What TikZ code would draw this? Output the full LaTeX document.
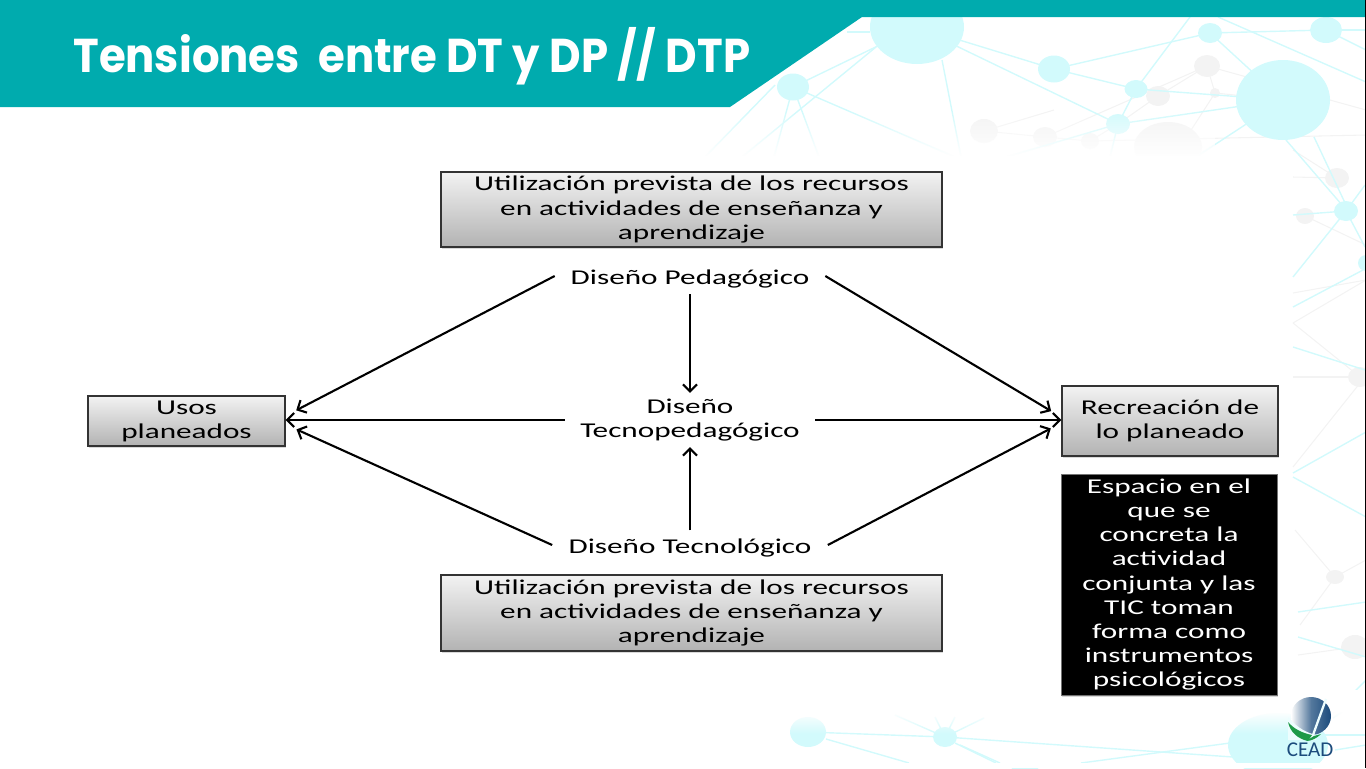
\documentclass[tikz,border=0pt]{standalone}
\usepackage{fontspec}
\usetikzlibrary{arrows.meta,shadows}
\setmainfont{Carlito}
\newfontfamily\cajafont[FakeStretch=1.48]{Carlito}
\newfontfamily\titulofont[FakeStretch=0.915]{Poppins}
\definecolor{ceadteal}{HTML}{00ABAE}
\definecolor{redcian}{HTML}{D2FAFC}
\definecolor{redgris}{HTML}{F3F3F3}
\definecolor{ceadazul}{HTML}{1B4B7C}
\definecolor{ceadverde}{HTML}{1E9A48}
\tikzset{
  textobox/.style={font=\cajafont\fontsize{12}{13.7}\selectfont,align=center,inner sep=0pt,
    execute at begin node={\rule{0pt}{11.6pt}}},
  cajagris/.style={textobox,draw=black!80,line width=0.7pt,top color=black!5,bottom color=black!30,
    drop shadow={shadow xshift=0.8pt,shadow yshift=-1.2pt,opacity=0.3}},
  cajanegra/.style={textobox,draw=black!55,line width=0.5pt,fill=black,text=white,
    drop shadow={shadow xshift=0.8pt,shadow yshift=-1.2pt,opacity=0.3}},
  flecha/.style={line width=1.2pt,black,-{Straight Barb[length=4pt,width=8pt]}},
  redlinea/.style={redcian,line width=0.8pt},
  redlineag/.style={redgris,line width=0.6pt}
}
\begin{document}
\begin{tikzpicture}[x=0.02cm,y=-0.02cm]
  \useasboundingbox (0,0) rectangle (1366,768);
  % red de fondo
  \foreach \xa/\ya/\xb/\yb in {984/131/1045/137, 1045/137/1090/141, 1090/141/1118/124, 984/131/1054/110,
    1045/137/1207/66, 1158/96/1207/66, 1158/96/1118/124, 1207/66/1215/93, 1215/93/1283/100, 1207/66/1366/110,
    1215/93/1175/155, 1090/141/1366/135, 1293/177/1337/178, 1293/150/1337/178, 1305/216/1366/245,
    1293/323/1366/280, 1293/323/1360/377, 1293/377/1360/377, 1293/467/1360/383, 1293/293/1366/280,
    1335/577/1295/530, 1335/577/1366/560, 1335/577/1300/625, 1355/647/1298/655}{
    \draw[redlineag] (\xa,\ya) -- (\xb,\yb);
  }
  \foreach \cx/\cy/\rx/\ry in {984/131/14/12, 1045/137/12/10, 1090/141/9/8, 1168/147/34/25, 1158/96/12/10,
    1207/66/13/11, 1215/93/5/5, 1337/178/12/10, 1305/216/9/8, 1360/377/12/10, 1335/577/9/7, 1355/647/14/12}{
    \fill[redgris] (\cx,\cy) ellipse ({\rx} and {\ry});
  }
  \foreach \xa/\ya/\xb/\yb in {917/27/1054/69, 1054/69/1136/89, 1054/69/1210/33, 1210/33/1326/30, 1326/30/1366/30,
    1190/17/1136/89, 1210/33/1283/100, 1218/17/1366/82, 917/27/1118/124, 942/60/961/157, 1136/89/1283/100,
    1118/124/1283/100, 793/87/917/27, 847/32/870/32, 705/157/775/85, 742/157/876/47, 793/87/774/157,
    793/87/819/157, 793/87/955/157, 1118/124/1006/157, 1118/124/1110/157, 1136/89/1118/124, 1283/100/1199/155,
    1326/30/1366/50, 1286/140/1342/205, 1314/137/1346/205, 1293/215/1346/211, 1293/277/1346/211,
    1346/211/1365/247, 1346/211/1365/185, 1293/307/1363/270, 1293/347/1365/370,
    1293/473/1366/432, 1293/477/1366/517, 1298/612/1366/602, 1298/637/1366/657, 1333/713/1366/680,
    1333/718/1366/695, 808/732/945/737, 826/739/909/763, 945/737/1233/757, 955/743/996/763, 960/745/1000/763,
    1081/763/1230/743, 895/715/945/737, 984/718/945/737, 935/717/945/737, 955/717/945/737, 1320/735/1366/735,
    1335/750/1366/745}{
    \draw[redlinea] (\xa,\ya) -- (\xb,\yb);
  }
  \foreach \cx/\cy/\rx/\ry in {917/27/47/37, 793/87/16/13.5, 1054/69/16/13.5, 1210/33/12/10, 1326/30/16/13,
    1283/100/47/40, 1136/89/11.5/9, 1118/124/12/10, 1346/211/12/10, 1366/263/8/8, 808/732/18/15, 945/737/12/10,
    1278/745/50/32, 1025/773/15/10}{
    \fill[redcian] (\cx,\cy) ellipse ({\rx} and {\ry});
  }
  % desvanecido de la red
  \foreach \i in {0,...,23}{
    \fill[white,opacity=\i/23] (690,{110+2*\i}) rectangle (1215,{112+2*\i});
    \fill[white,opacity=\i/23] (775,{735-\i}) rectangle (1366,{734-\i});
  }
  \fill[white] (690,156) rectangle (1215,175);
  \fill[white] (775,690) rectangle (1366,712);
  \fill[white] (690,763) rectangle (1366,768);
  % banda del titulo
  \fill[ceadteal] (0,0) -- (1366,0) -- (1366,17) -- (862,17) -- (730,107) -- (0,107) -- cycle;
  \fill[black] (1365,0) rectangle (1366,768);
  \node[anchor=base west,inner sep=0pt,white,font=\titulofont\bfseries\fontsize{27}{30}\selectfont] (titulo) at (73,72)
    {Tensiones\ \ entre DT y DP // DTP};
  % cajas
  \node[cajagris,minimum width=10.02cm,minimum height=1.5cm] (previstaA) at (691.5,209.5)
    {Utilización prevista de los recursos\\en actividades de enseñanza y\\aprendizaje};
  \node[cajagris,minimum width=10.02cm,minimum height=1.52cm] (previstaB) at (691.5,613)
    {Utilización prevista de los recursos\\en actividades de enseñanza y\\aprendizaje};
  \node[cajagris,minimum width=3.94cm,minimum height=1cm] (usos) at (186.5,421) {Usos\\planeados};
  \node[cajagris,minimum width=4.32cm,minimum height=1.4cm] (recreacion) at (1170,421) {Recreación de\\lo planeado};
  \node[cajanegra,minimum width=4.32cm,minimum height=4.42cm] (espacio) at (1169,584.5)
    {Espacio en el\\que se\\concreta la\\actividad\\conjunta y las\\TIC toman\\forma como\\instrumentos\\psicológicos};
  \node[textobox,minimum width=5.4cm,minimum height=0.5cm] (pedagogico) at (690,276) {Diseño Pedagógico};
  \node[textobox,minimum width=5cm,minimum height=1cm] (tecnopeda) at (690,420) {Diseño\\Tecnopedagógico};
  \node[textobox,minimum width=5.5cm,minimum height=0.5cm] (tecnologico) at (690,545) {Diseño Tecnológico};
  % flechas
  \draw[flecha,shorten >=6.8pt] (pedagogico.west) -- (usos.3);
  \draw[flecha] (tecnopeda.west) -- (tecnopeda.west -| usos.east);
  \draw[flecha,shorten >=6.8pt] (tecnologico.west) -- (usos.-2);
  \draw[flecha,shorten >=6.8pt] (pedagogico.east) -- (recreacion.178);
  \draw[flecha] (tecnopeda.east) -- (tecnopeda.east -| recreacion.west);
  \draw[flecha,shorten >=6.8pt] (tecnologico.east) -- (recreacion.181.5);
  \draw[flecha,shorten <=3pt,shorten >=1pt] (pedagogico.south) -- (tecnopeda.north);
  \draw[flecha,shorten <=1pt,shorten >=1pt] (tecnologico.north) -- (tecnopeda.south);
  % logo
  \shade[left color=white,right color=ceadazul,middle color=ceadazul!75] (1311,716) ellipse (20 and 19);
  \fill[white!60!redcian] (1288,717) .. controls (1298,729) and (1308,733) .. (1316,735) -- (1316,740) -- (1288,740) -- cycle;
  \draw[white!60!redcian,line width=1.3pt] (1326,699) -- (1313,735);
  \fill[ceadverde] (1288,722) .. controls (1290,732) and (1298,739) .. (1308,741) -- (1312,735)
    .. controls (1302,733) and (1294,729) .. (1288,722) -- cycle;
  \fill[ceadverde] (1306,741) .. controls (1312,741) and (1317,738) .. (1321,734) -- (1314,736) -- cycle;
  \node[inner sep=0pt,ceadazul,font=\fontsize{12}{13}\selectfont] (cead) at (1310,750) {CEAD};
\end{tikzpicture}
\end{document}
